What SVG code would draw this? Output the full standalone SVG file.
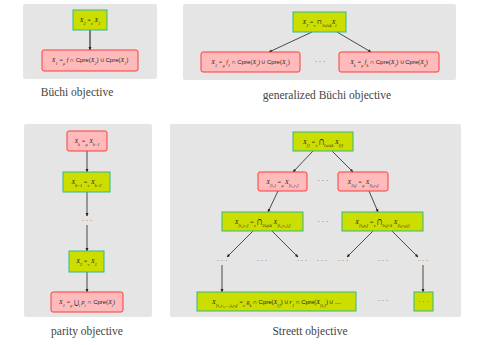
<svg xmlns="http://www.w3.org/2000/svg" width="491" height="345" viewBox="0 0 491 345">
  <style>
    .panel { fill: #e5e5e5; }
    .nu rect { fill: #ccdd00; stroke: #33bb88; stroke-width: 1; }
    .mu rect { fill: #ffbbbb; stroke: #ff3b3b; stroke-width: 1; }
    .lbl { font-family: "Liberation Serif", serif; font-style: italic; font-size: 6px; fill: #222; text-anchor: middle; }
    .lbl tspan.s { font-size: 4.2px; }
    .sf { font-family: "Liberation Sans", sans-serif; font-style: normal; }
    .rm { font-style: normal; }
    .cap { font-family: "Liberation Serif", "DejaVu Serif", serif; font-size: 11.5px; fill: #444; text-anchor: middle; }
    .dots { font-family: "Liberation Serif", serif; font-size: 7px; fill: #444; text-anchor: middle; }
    .edges line { stroke: #222; stroke-width: 0.8; marker-end: url(#arr); }
  </style>
  <defs>
    <marker id="arr" viewBox="0 0 6 6" refX="5" refY="3" markerWidth="3.5" markerHeight="3.5" markerUnits="userSpaceOnUse" orient="auto">
      <path d="M0,0.5 L6,3 L0,5.5 z" fill="#222"/>
    </marker>
  </defs>

  <!-- panels -->
  <rect class="panel" x="23" y="4" width="134" height="75" rx="2"/>
  <rect class="panel" x="183" y="4" width="273" height="76" rx="2"/>
  <rect class="panel" x="24" y="124" width="128" height="193" rx="2"/>
  <rect class="panel" x="170" y="124" width="291" height="193" rx="2"/>

  <!-- captions -->
  <text class="cap" x="77" y="96">Büchi objective</text>
  <text class="cap" x="327" y="99">generalized Büchi objective</text>
  <text class="cap" x="87" y="335">parity objective</text>
  <text class="cap" x="310" y="335">Streett objective</text>

  <!-- connectors -->
  <g class="edges">
    <line x1="90" y1="30" x2="90" y2="50" style="stroke:#555;stroke-width:1.5"/>
    <line x1="312" y1="32" x2="269" y2="52"/>
    <line x1="337" y1="32" x2="371" y2="52"/>
    <line x1="87" y1="151" x2="87" y2="172"/>
    <line x1="87" y1="192" x2="87" y2="216"/>
    <line x1="87" y1="225" x2="87" y2="251"/>
    <line x1="87" y1="272" x2="87" y2="292"/>
    <line x1="313" y1="151" x2="293" y2="172"/>
    <line x1="332" y1="151" x2="353" y2="172"/>
    <line x1="278" y1="191" x2="268" y2="212"/>
    <line x1="369" y1="191" x2="378" y2="212"/>
    <line x1="253" y1="231" x2="227" y2="257"/>
    <line x1="272" y1="231" x2="298" y2="257"/>
    <line x1="373" y1="231" x2="347" y2="257"/>
    <line x1="392" y1="231" x2="418" y2="257"/>
    <line x1="222" y1="265" x2="222" y2="292"/>
    <line x1="423" y1="265" x2="423" y2="292"/>
  </g>

  <!-- Büchi -->
  <g id="b-x2" class="nu">
    <rect x="73" y="10" width="34" height="20"/>
    <text class="lbl" x="90" y="22">X<tspan class="s" baseline-shift="sub">2</tspan> =<tspan class="s" baseline-shift="sub">ν</tspan> X<tspan class="s" baseline-shift="sub">1</tspan></text>
  </g>
  <g id="b-x1" class="mu">
    <rect x="42" y="50" width="96" height="21" rx="2"/>
    <text class="lbl" x="90" y="62">X<tspan class="s" baseline-shift="sub">1</tspan> =<tspan class="s" baseline-shift="sub">μ</tspan> f <tspan class="rm">∩</tspan> <tspan class="sf">Cpre</tspan><tspan class="rm">(</tspan>X<tspan class="s" baseline-shift="sub">2</tspan><tspan class="rm">) ∪ </tspan><tspan class="sf">Cpre</tspan><tspan class="rm">(</tspan>X<tspan class="s" baseline-shift="sub">1</tspan><tspan class="rm">)</tspan></text>
  </g>

  <!-- generalized Büchi -->
  <g id="g-xj" class="nu">
    <rect x="293" y="12" width="53" height="20"/>
    <text class="lbl" x="319.5" y="24">X<tspan class="s" baseline-shift="sub">J</tspan> =<tspan class="s" baseline-shift="sub">ν</tspan> <tspan class="rm">⊓</tspan><tspan class="s" baseline-shift="sub">1≤i≤k</tspan>X<tspan class="s" baseline-shift="sub">i</tspan></text>
  </g>
  <g id="g-x1" class="mu">
    <rect x="201" y="52" width="99" height="20" rx="2"/>
    <text class="lbl" x="250.5" y="64">X<tspan class="s" baseline-shift="sub">1</tspan> =<tspan class="s" baseline-shift="sub">μ</tspan> f<tspan class="s" baseline-shift="sub">1</tspan> <tspan class="rm">∩</tspan> <tspan class="sf">Cpre</tspan><tspan class="rm">(</tspan>X<tspan class="s" baseline-shift="sub">J</tspan><tspan class="rm">) ∪ </tspan><tspan class="sf">Cpre</tspan><tspan class="rm">(</tspan>X<tspan class="s" baseline-shift="sub">1</tspan><tspan class="rm">)</tspan></text>
  </g>
  <text class="dots" x="320" y="64">· · ·</text>
  <g id="g-xk" class="mu">
    <rect x="339" y="52" width="100" height="20" rx="2"/>
    <text class="lbl" x="389" y="64">X<tspan class="s" baseline-shift="sub">k</tspan> =<tspan class="s" baseline-shift="sub">μ</tspan> f<tspan class="s" baseline-shift="sub">k</tspan> <tspan class="rm">∩</tspan> <tspan class="sf">Cpre</tspan><tspan class="rm">(</tspan>X<tspan class="s" baseline-shift="sub">J</tspan><tspan class="rm">) ∪ </tspan><tspan class="sf">Cpre</tspan><tspan class="rm">(</tspan>X<tspan class="s" baseline-shift="sub">k</tspan><tspan class="rm">)</tspan></text>
  </g>

  <!-- parity -->
  <g id="p-xk" class="mu">
    <rect x="67" y="131" width="40" height="20" rx="2"/>
    <text class="lbl" x="87" y="143">X<tspan class="s" baseline-shift="sub">k</tspan> =<tspan class="s" baseline-shift="sub">μ</tspan> X<tspan class="s" baseline-shift="sub">k−1</tspan></text>
  </g>
  <g id="p-xk1" class="nu">
    <rect x="63" y="172" width="47" height="20"/>
    <text class="lbl" x="86.5" y="184">X<tspan class="s" baseline-shift="sub">k−1</tspan> =<tspan class="s" baseline-shift="sub">ν</tspan> X<tspan class="s" baseline-shift="sub">k−2</tspan></text>
  </g>
  <text class="dots" x="87" y="223">· · ·</text>
  <g id="p-x2" class="nu">
    <rect x="69" y="251" width="35" height="21"/>
    <text class="lbl" x="86.5" y="263">X<tspan class="s" baseline-shift="sub">2</tspan> =<tspan class="s" baseline-shift="sub">ν</tspan> X<tspan class="s" baseline-shift="sub">1</tspan></text>
  </g>
  <g id="p-x1" class="mu">
    <rect x="51" y="292" width="72" height="20" rx="2"/>
    <text class="lbl" x="87" y="304">X<tspan class="s" baseline-shift="sub">1</tspan> =<tspan class="s" baseline-shift="sub">μ</tspan> <tspan class="rm">⋃</tspan><tspan class="s" baseline-shift="sub">i</tspan> p<tspan class="s" baseline-shift="sub">i</tspan> <tspan class="rm">∩</tspan> <tspan class="sf">Cpre</tspan><tspan class="rm">(</tspan>X<tspan class="s" baseline-shift="sub">i</tspan><tspan class="rm">)</tspan></text>
  </g>

  <!-- Streett -->
  <g id="s-root" class="nu">
    <rect x="293" y="132" width="60" height="19"/>
    <text class="lbl" x="323" y="143.5">X<tspan class="s" baseline-shift="sub">[]</tspan> =<tspan class="s" baseline-shift="sub">ν</tspan> <tspan class="rm">⋂</tspan><tspan class="s" baseline-shift="sub">1≤i≤k</tspan> X<tspan class="s" baseline-shift="sub">[i]</tspan></text>
  </g>
  <g id="s-i1" class="mu">
    <rect x="258" y="172" width="49" height="19" rx="2"/>
    <text class="lbl" x="282.5" y="183.5">X<tspan class="s" baseline-shift="sub">[i₁]</tspan> =<tspan class="s" baseline-shift="sub">μ</tspan> X<tspan class="s" baseline-shift="sub">[i₁,r₁]</tspan></text>
  </g>
  <text class="dots" x="323" y="183">· · ·</text>
  <g id="s-ik" class="mu">
    <rect x="338" y="172" width="50" height="19" rx="2"/>
    <text class="lbl" x="363" y="183.5">X<tspan class="s" baseline-shift="sub">[iₖ]</tspan> =<tspan class="s" baseline-shift="sub">μ</tspan> X<tspan class="s" baseline-shift="sub">[iₖ,rₖ]</tspan></text>
  </g>
  <g id="s-i1r1" class="nu">
    <rect x="222" y="212" width="81" height="19"/>
    <text class="lbl" x="262.5" y="223.5">X<tspan class="s" baseline-shift="sub">[i₁,r₁]</tspan> =<tspan class="s" baseline-shift="sub">ν</tspan> <tspan class="rm">⋂</tspan><tspan class="s" baseline-shift="sub">2≤j≤k</tspan> X<tspan class="s" baseline-shift="sub">[i₁,r₁,iⱼ]</tspan></text>
  </g>
  <text class="dots" x="323" y="224">· · ·</text>
  <g id="s-ikrk" class="nu">
    <rect x="342" y="212" width="81" height="19"/>
    <text class="lbl" x="382.5" y="223.5">X<tspan class="s" baseline-shift="sub">[iₖ,rₖ]</tspan> =<tspan class="s" baseline-shift="sub">ν</tspan> <tspan class="rm">⋂</tspan><tspan class="s" baseline-shift="sub">1≤j&lt;k</tspan> X<tspan class="s" baseline-shift="sub">[iₖ,rₖ,iⱼ]</tspan></text>
  </g>
  <g class="dots">
    <text x="222" y="263">· · ·</text>
    <text x="262" y="263">· · ·</text>
    <text x="302" y="263">· · ·</text>
    <text x="322" y="263">· · ·</text>
    <text x="343" y="263">· · ·</text>
    <text x="383" y="263">· · ·</text>
    <text x="423" y="263">· · ·</text>
  </g>
  <g id="s-leaf" class="nu">
    <rect x="197" y="292" width="159" height="19"/>
    <text class="lbl" x="276.5" y="303.5">X<tspan class="s" baseline-shift="sub">[i₁,r₁,…,iₖ,rₖ]</tspan> =<tspan class="s" baseline-shift="sub">ν</tspan> g<tspan class="s" baseline-shift="sub">k</tspan> <tspan class="rm">∩</tspan> <tspan class="sf">Cpre</tspan><tspan class="rm">(</tspan>X<tspan class="s" baseline-shift="sub">[]</tspan><tspan class="rm">) ∪ </tspan>r<tspan class="s" baseline-shift="sub">1</tspan> <tspan class="rm">∩</tspan> <tspan class="sf">Cpre</tspan><tspan class="rm">(</tspan>X<tspan class="s" baseline-shift="sub">[i₁]</tspan><tspan class="rm">) ∪ …</tspan></text>
  </g>
  <text class="dots" x="383" y="303">· · ·</text>
  <g id="s-leafk" class="nu">
    <rect x="414" y="292" width="19" height="19"/>
    <text class="dots" x="423.5" y="303.5">· · ·</text>
  </g>
</svg>
